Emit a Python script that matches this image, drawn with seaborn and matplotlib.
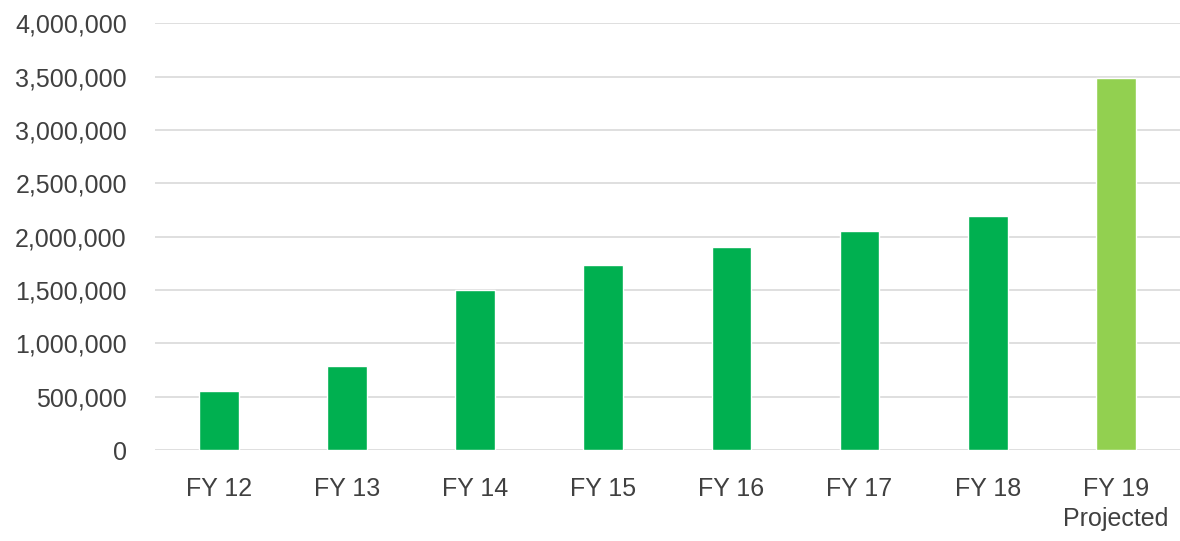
import pandas as pd
import seaborn as sns
import matplotlib.pyplot as plt
from matplotlib.ticker import FuncFormatter

#%% Data
years = ['FY 12', 'FY 13', 'FY 14', 'FY 15', 'FY 16', 'FY 17', 'FY 18', 'FY 19\nProjected']
values = [550000, 790000, 1500000, 1735000, 1900000, 2050000, 2190000, 3485000]
bar_colors = ['#00B050'] * 7 + ['#92D050']

df = pd.DataFrame({'year': years, 'value': values})

#%% Plot
sns.set_style('white')
plt.rcParams['font.family'] = ['Liberation Sans', 'DejaVu Sans']

fig = plt.figure(figsize=(11.8, 5.41), dpi=100)
ax = fig.add_axes([0.131, 0.168, 0.869, 0.789])

sns.barplot(data=df, x='year', y='value', hue='year', palette=bar_colors,
            width=0.31, legend=False, saturation=1, ax=ax)

ax.set_ylim(0, 4000000)
ax.set_yticks(range(0, 4000001, 500000))
ax.yaxis.set_major_formatter(FuncFormatter(lambda v, p: f'{int(v):,}'))
ax.grid(axis='y', color='#D9D9D9', linewidth=1.2)
ax.set_axisbelow(True)
for s in ax.spines.values():
    s.set_visible(False)

ax.tick_params(axis='y', length=0, pad=20, labelsize=18, labelcolor='#404040')
ax.tick_params(axis='x', length=0, pad=19, labelsize=18, labelcolor='#404040')
for lbl in ax.get_xticklabels():
    lbl.set_linespacing(1.35)
    lbl.set_verticalalignment('top')
ax.set_xlabel('')
ax.set_ylabel('')

plt.savefig('out.png', dpi=100)
